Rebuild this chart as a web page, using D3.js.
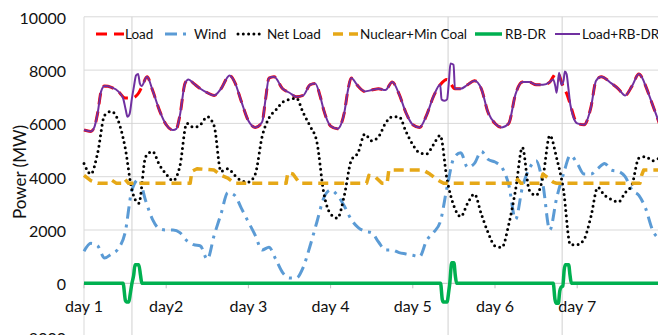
<!DOCTYPE html>
<html>
<head>
<meta charset="utf-8">
<script src="https://cdn.jsdelivr.net/npm/d3@7"></script>
<style>
  body { margin: 0; background: #fff; }
  svg { display: block; font-family: Lato, "Open Sans", sans-serif; }
</style>
</head>
<body>
<div id="chart"></div>
<script>
// x labels, y ticks
const dayLabels = ["day 1", "day2", "day 3", "day 4", "day 5", "day 6", "day 7"];
const yTicks = [-2000, 0, 2000, 4000, 6000, 8000, 10000];
// hours where the grey vertical marker lines sit (DR events)
const eventHours = [14, 106.3, 139.6];

// 2-hour grid for wind and net load
const hours2 = d3.range(0, 169, 2);
const wind = [1200,1500,1400,950,1100,1300,1900,3500,3900,3100,2400,2050,2000,
  2000,1900,1600,1450,1400,900,1800,2600,3400,3300,2800,2300,
  1800,1250,1350,900,400,200,200,600,1400,2300,3200,3500,
  3300,2900,2400,2100,1950,1900,1550,1250,1250,1150,1100,1050,
  1000,1600,1900,2300,3600,4700,4900,4350,4500,4950,4650,4550,
  4350,3700,2400,3600,4300,4600,3700,2000,3200,4100,4800,4500,
  4100,4100,4300,4500,4250,4200,4000,3500,3300,2800,2000,1650];
const netLoad = [4500,4100,4900,6300,6450,6100,5100,3500,3000,4750,4950,4450,4100,
  3850,4400,6000,5850,5950,6250,5900,4200,4300,4050,3850,3800,
  4100,5500,6200,6500,6800,6900,6950,6400,5900,5300,3400,2600,
  2450,3300,4600,4900,5600,5350,5500,6000,6250,6250,5700,5200,
  4900,4850,5200,5550,3900,2900,2500,3000,3350,2600,1900,1400,
  1350,2200,3500,5100,3500,3300,4000,5550,4700,3500,1450,1450,
  1650,2500,3600,3300,3150,3050,3400,3700,4700,4750,4600,4700];

// [hour, MW]
const load = [[0,5750],[2,5700],[3,5850],[4,6400],[5,7200],[6,7400],[8,7350],[10,7200],[12,6950],[14,6950],[16,7150],[17,7400],[18.4,7750],[20,7250],[22,6500],[24,5950],
  [26,5750],[27,5800],[28,6300],[29.5,7500],[30.5,7650],[32,7500],[34,7300],[36,7150],[38,7050],[40,7300],[42.5,7800],[44,7550],[46,6800],[48,6100],
  [50,5850],[52,6050],[53,6900],[54,7700],[55.5,7750],[58,7300],[60,7150],[62,7000],[64,7050],[66,7450],[67.5,7500],[69,7000],[70,6500],[72,5900],
  [74,5800],[76,6400],[77,7200],[78,7700],[80,7400],[82,7200],[84,7250],[86,7300],[88,7250],[90,7550],[92,7100],[94,6400],[96,5950],
  [98,5850],[100,6300],[102,7000],[104,7450],[106,7650],[107,7500],[108.3,7300],[110,7300],[112,7450],[114,7600],[116,7300],[118,6400],[120,6000],
  [122,5850],[124,6000],[126,7100],[128,7550],[130,7550],[132,7450],[134,7450],[136,7550],[137,7750],[138,7900],[138.6,7850],[139.3,7600],[140,7350],[141,7100],[142,6700],[144,6000],
  [146,5950],[148,6600],[149.5,7600],[151,7750],[154,7500],[156,7300],[158,7050],[160,7400],[162,7850],[163,7700],[164,7400],[166,6700],[168,6000]];

const loadPlusDR = [[0,5750],[2,5700],[3,5850],[4,6400],[5,7200],[6,7400],[8,7350],[10,7200],[11.4,6950],[12.2,6500],[12.7,6250],[13.3,6350],[14,6950],[14.6,7400],[15.2,7800],[15.8,7850],[16.3,7500],[16.8,7400],[18.4,7750],[20,7250],[22,6500],[24,5950],
  [26,5750],[27,5800],[28,6300],[29.5,7500],[30.5,7650],[32,7500],[34,7300],[36,7150],[38,7050],[40,7300],[42.5,7800],[44,7550],[46,6800],[48,6100],
  [50,5850],[52,6050],[53,6900],[54,7700],[55.5,7750],[58,7300],[60,7150],[62,7000],[64,7050],[66,7450],[67.5,7500],[69,7000],[70,6500],[72,5900],
  [74,5800],[76,6400],[77,7200],[78,7700],[80,7400],[82,7200],[84,7250],[86,7300],[88,7250],[90,7550],[92,7100],[94,6400],[96,5950],
  [98,5850],[100,6300],[102,7000],[104,7450],[104.4,6900],[105.3,6850],[106,6900],[106.5,7500],[107,8250],[107.9,8200],[108.3,7300],[110,7300],[112,7450],[114,7600],[116,7300],[118,6400],[120,6000],
  [122,5850],[124,6000],[126,7100],[128,7550],[130,7550],[132,7450],[134,7450],[136,7550],[137,7650],[137.6,7400],[138,7150],[138.7,7900],[139.4,7450],[140,7600],[140.4,7950],[140.9,7850],[141.4,7350],[142,6700],[144,6000],
  [146,5950],[148,6600],[149.5,7600],[151,7750],[154,7500],[156,7300],[158,7050],[160,7400],[162,7850],[163,7700],[164,7400],[166,6700],[168,6000]];

const nuclearMinCoal = [[0,4050],[2,3850],[4,3750],[7,3750],[8,3880],[9.5,3750],[11,3750],[12,3900],[13,3750],[31,3750],[31.5,4200],[33,4300],[38,4250],[40,4050],[42,3950],[44,3750],
  [59,3750],[59.5,4150],[61,4100],[63,3750],[82.5,3750],[83.2,4050],[85,4000],[87,3750],[88.5,3750],[89,4250],[99,4250],[101,4100],[103,3900],[105,3750],
  [126,3750],[126.6,3900],[127.6,3750],[133.2,3750],[134,4100],[135,4000],[137,3800],[138,3750],[162.3,3750],[162.8,4050],[163.4,4250],[168,4250]];

const rbDR = [[0,0],[11.4,0],[12.1,-650],[12.4,-700],[13.1,-700],[13.5,-400],[14,0],[14.5,300],[14.9,700],[16,700],[16.5,300],[16.9,0],
  [104.1,0],[104.6,-600],[104.9,-700],[106,-700],[106.5,-300],[106.8,0],[107.1,500],[107.3,770],[108,770],[108.4,300],[108.8,0],
  [137,0],[137.5,-600],[137.8,-750],[138.5,-750],[138.9,-300],[139.3,-150],[139.8,-100],[140.2,500],[140.5,700],[141.5,700],[141.9,300],[142.3,0],[168,0]];

const width = 658, height = 335;
const svg = d3.select("#chart").append("svg")
  .attr("width", width)
  .attr("height", height);

const x = d3.scaleLinear().domain([0, 168]).range([84, 659.4]);
const y = d3.scaleLinear().domain([-2000, 10000]).range([336.6, 16.8]);

// gridlines
svg.append("g")
  .selectAll("line")
  .data(yTicks)
  .join("line")
    .attr("x1", x(0)).attr("x2", width)
    .attr("y1", d => y(d)).attr("y2", d => y(d))
    .attr("stroke", d => d === 0 ? "#bfbfbf" : "#d9d9d9")
    .attr("stroke-width", 1);

svg.append("line")
  .attr("x1", x(0)).attr("x2", x(0))
  .attr("y1", y(10000)).attr("y2", height)
  .attr("stroke", "#d9d9d9");

svg.append("g")
  .selectAll("line")
  .data(eventHours)
  .join("line")
    .attr("x1", d => x(d)).attr("x2", d => x(d))
    .attr("y1", y(10000)).attr("y2", height)
    .attr("stroke", "#d0d0d0");

// x ticks + labels
svg.append("g")
  .selectAll("line")
  .data(dayLabels)
  .join("line")
    .attr("x1", (d, i) => x(i * 24)).attr("x2", (d, i) => x(i * 24))
    .attr("y1", y(0)).attr("y2", y(0) + 5)
    .attr("stroke", "#bfbfbf");

svg.append("g")
  .selectAll("text")
  .data(dayLabels)
  .join("text")
    .attr("x", (d, i) => x(i * 24))
    .attr("y", 312)
    .attr("text-anchor", "middle")
    .attr("font-size", 16)
    .attr("fill", "#111")
    .text(d => d);

// y labels
svg.append("g")
  .selectAll("text")
  .data(yTicks)
  .join("text")
    .attr("x", 66)
    .attr("y", d => y(d) + 7)
    .attr("text-anchor", "end")
    .attr("font-size", 16)
    .attr("fill", "#111")
    .text(d => d);

svg.append("text")
  .attr("transform", "translate(19,172) rotate(-90)")
  .attr("text-anchor", "middle")
  .attr("dominant-baseline", "central")
  .attr("font-size", 17)
  .attr("fill", "#111")
  .text("Power (MW)");

const line = d3.line()
  .x(d => x(d[0]))
  .y(d => y(d[1]))
  .curve(d3.curveMonotoneX);

const series = [
  {name: "Load", data: load, color: "#ff0000", w: 3, dash: "11,7", lx: [96, 124], tx: 125},
  {name: "Wind", data: hours2.map((h, i) => [h, wind[i]]), color: "#5b9bd5", w: 3, dash: "12,6,3,6", lx: [165, 190], tx: 194},
  {name: "Net Load", data: hours2.map((h, i) => [h, netLoad[i]]), color: "#000", w: 3, dash: "0,5.3", cap: "round", lx: [238, 263], tx: 267},
  {name: "Nuclear+Min Coal", data: nuclearMinCoal, color: "#e6a817", w: 3.5, dash: "10,6", linear: true, lx: [333, 358], tx: 360},
  {name: "RB-DR", data: rbDR, color: "#00b050", w: 3.5, dash: null, lx: [475, 502], tx: 505},
  {name: "Load+RB-DR", data: loadPlusDR, color: "#7030a0", w: 2, dash: null, lx: [555, 580], tx: 582}
];

series.forEach(s => {
  const gen = s.linear ? d3.line().x(d => x(d[0])).y(d => y(d[1])) : line;
  svg.append("path")
    .datum(s.data)
    .attr("fill", "none")
    .attr("stroke", s.color)
    .attr("stroke-width", s.w)
    .attr("stroke-dasharray", s.dash)
    .attr("stroke-linecap", s.cap || "butt")
    .attr("stroke-linejoin", "round")
    .attr("d", gen);
});

// legend
const legend = svg.append("g");
series.forEach(s => {
  legend.append("line")
    .attr("x1", s.lx[0]).attr("x2", s.lx[1])
    .attr("y1", 34).attr("y2", 34)
    .attr("stroke", s.color)
    .attr("stroke-width", s.w)
    .attr("stroke-dasharray", s.dash)
    .attr("stroke-linecap", s.cap || "butt");
  legend.append("text")
    .attr("x", s.tx).attr("y", 34)
    .attr("dominant-baseline", "central")
    .attr("font-size", 13.5)
    .attr("fill", "#111")
    .text(s.name);
});
</script>
</body>
</html>
